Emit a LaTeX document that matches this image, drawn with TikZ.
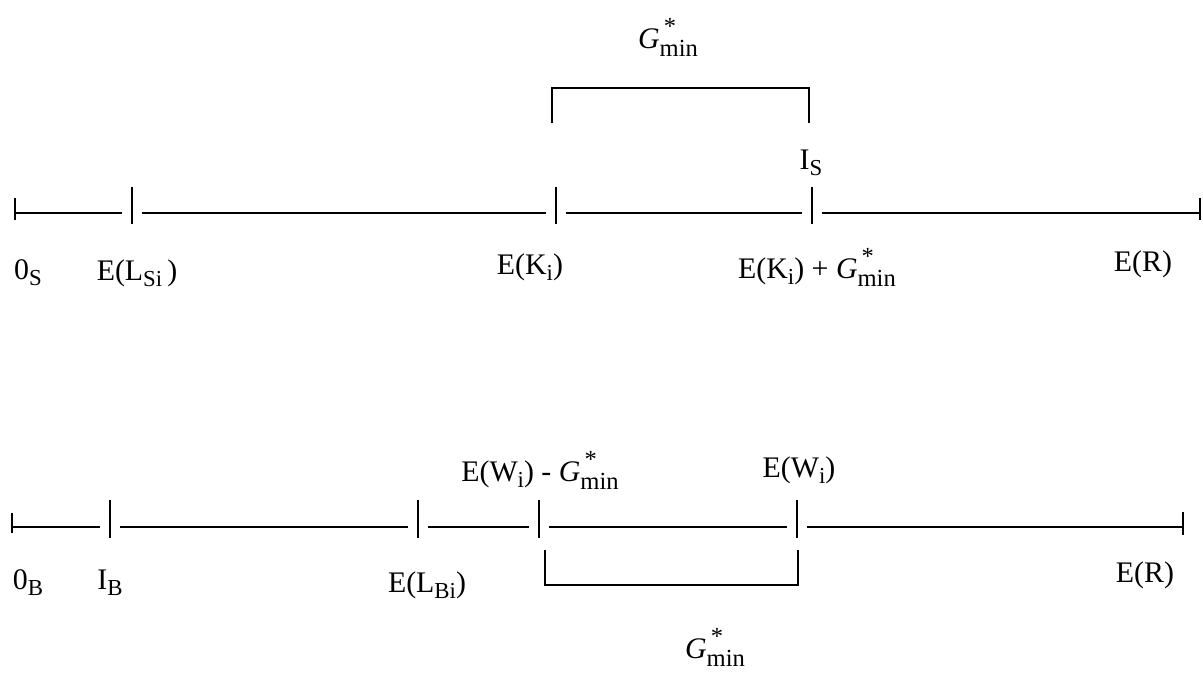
\documentclass[tikz,border=0pt]{standalone}
\usepackage{fontspec}
\setmainfont{Liberation Serif}
\usetikzlibrary{positioning, calc}

\newcommand{\sub}[1]{\raisebox{-0.45ex}{\fontsize{13}{14}\selectfont #1}}
\newcommand{\gmin}{\textit{G}\rlap{\raisebox{1.05ex}{\fontsize{14}{14}\selectfont\,*}}\raisebox{-0.55ex}{\fontsize{14}{14}\selectfont min}}

\begin{document}
\begin{tikzpicture}[
		x=0.02cm, y=-0.02cm,
		lbl/.style={inner sep=0pt, font=\fontsize{17}{20}\selectfont},
		axis/.style={line width=0.6pt},
		tick/.style={line width=1pt},
		brk/.style={line width=1.4pt},
	]
	\useasboundingbox (0,0) rectangle (1203,674);

	% -- seller line --
	\coordinate (s0) at (15, 213);
	\coordinate (s1) at (132, 213);
	\coordinate (s2) at (556, 213);
	\coordinate (s3) at (812, 213);
	\coordinate (s4) at (1200, 213);

	\draw[axis, shorten >=0.2cm] (s0) -- (s1);
	\draw[axis, shorten <=0.2cm, shorten >=0.2cm] (s1) -- (s2);
	\draw[axis, shorten <=0.2cm, shorten >=0.2cm] (s2) -- (s3);
	\draw[axis, shorten <=0.2cm] (s3) -- (s4);

	\draw[tick] (s0) ++(0,-15) -- ++(0,22);
	\foreach \t in {s1, s2, s3}
		\draw[tick] (\t) ++(0,-26) -- ++(0,37);
	\draw[tick] (s4) ++(0,-15) -- ++(0,22);

	% bracket above
	\draw[brk] (552,123) |- (809,88) -- (809,123);

	\node[lbl] (gs) at (668, 37) {\gmin};
	\node[lbl] (is) at (811, 163) {I\sub{S}};
	\node[lbl] (os) at (28, 273) {0\sub{S}};
	\node[lbl] (ls) at (137, 273) {E(L\sub{Si}\,)};
	\node[lbl] (ki) at (530, 267) {E(K\sub{i})};
	\node[lbl] (kg) at (817, 267) {E(K\sub{i}) + \gmin};
	\node[lbl] (rs) at (1143, 264) {E(R)};

	% -- buyer line --
	\coordinate (b0) at (12, 527);
	\coordinate (b1) at (110, 527);
	\coordinate (b2) at (418, 527);
	\coordinate (b3) at (539, 527);
	\coordinate (b4) at (797, 527);
	\coordinate (b5) at (1183, 527);

	\draw[axis, shorten >=0.2cm] (b0) -- (b1);
	\draw[axis, shorten <=0.2cm, shorten >=0.2cm] (b1) -- (b2);
	\draw[axis, shorten <=0.2cm, shorten >=0.2cm] (b2) -- (b3);
	\draw[axis, shorten <=0.2cm, shorten >=0.2cm] (b3) -- (b4);
	\draw[axis, shorten <=0.2cm] (b4) -- (b5);

	\draw[tick] (b0) ++(0,-14) -- ++(0,20);
	\foreach \t in {b1, b2, b3, b4}
		\draw[tick] (\t) ++(0,-27) -- ++(0,38);
	\draw[tick] (b5) ++(0,-15) -- ++(0,23);

	% bracket below
	\draw[brk] (545,550) |- (798,585) -- (798,550);

	\node[lbl] (wg) at (540, 470) {E(W\sub{i}) - \gmin};
	\node[lbl] (wi) at (799, 470) {E(W\sub{i})};
	\node[lbl] (ob) at (28, 583) {0\sub{B}};
	\node[lbl] (ib) at (110, 583) {I\sub{B}};
	\node[lbl] (lb) at (427, 585) {E(L\sub{Bi})};
	\node[lbl] (rb) at (1145, 575) {E(R)};
	\node[lbl] (gb) at (715, 647) {\gmin};
\end{tikzpicture}
\end{document}
